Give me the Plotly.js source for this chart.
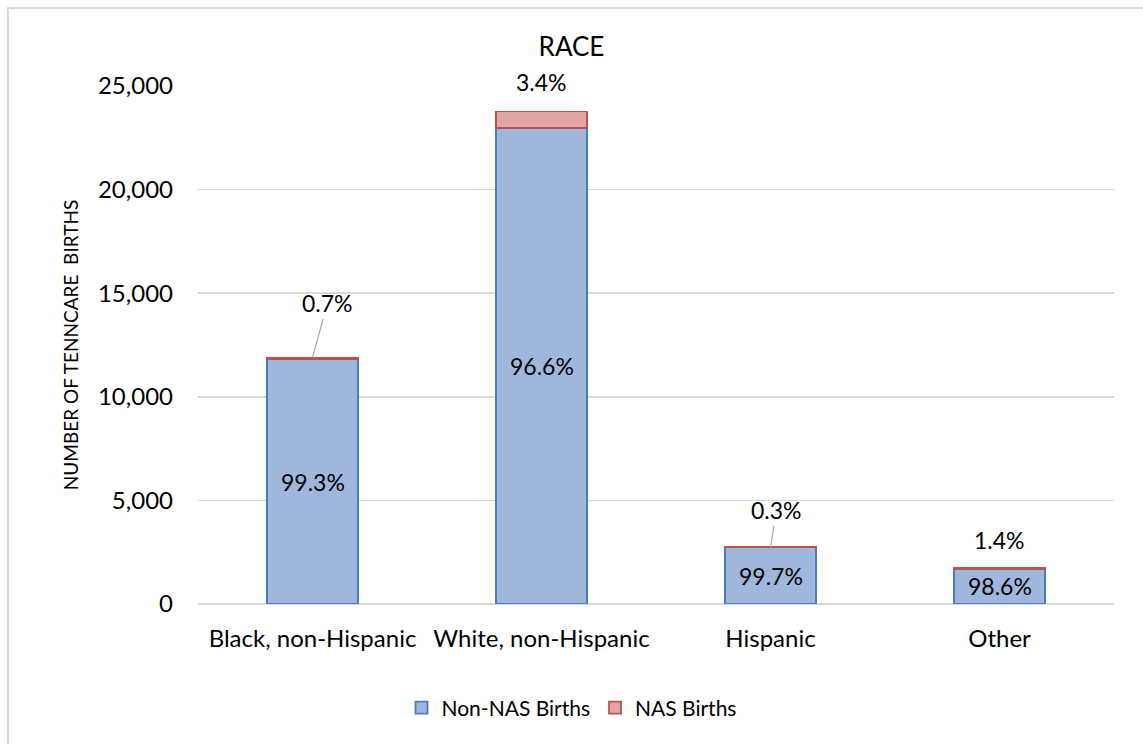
<!DOCTYPE html>
<html>
<head>
<meta charset="utf-8">
<script src="https://cdn.plot.ly/plotly-3.0.1.min.js"></script>
<style>
  html, body { margin: 0; padding: 0; background: #fff; overflow: hidden; }
  #frame { position: absolute; left: 7px; top: 7px; width: 1150px; height: 760px; border-left: 2px solid #d9d9d9; border-top: 2px solid #d9d9d9; box-sizing: border-box; }
  #chart { position: absolute; left: 0; top: 0; width: 1143px; height: 744px; }
</style>
</head>
<body>
<div id="frame"></div>
<div id="chart"></div>
<script>
const categories = ["Black, non-Hispanic", "White, non-Hispanic", "Hispanic", "Other"];
const nonNasBirths = [11817, 22960, 2732, 1700];
const nasBirths = [83, 808, 8, 24];
const nonNasLabels = ["99.3%", "96.6%", "99.7%", "98.6%"];
const nasLabels = ["0.7%", "3.4%", "0.3%", "1.4%"];

const FONT = "Lato, 'Open Sans', sans-serif";

const traces = [
  {
    type: "bar", name: "Non-NAS Births", x: categories, y: nonNasBirths,
    marker: { color: "#a0b7dd", line: { color: "#4a7cc4", width: 1.8 } },
    hoverinfo: "x+y"
  },
  {
    type: "bar", name: "NAS Births", x: categories, y: nasBirths,
    marker: { color: "#e0a5a5", line: { color: "#c0504d", width: 1.8 } },
    hoverinfo: "x+y"
  }
];

// label offsets for NAS labels (pixels) and whether a leader line is drawn
const nasOffsets = [[15, -54, true], [0, -30, false], [6, -37, true], [0, -28, false]];

const annotations = [];
categories.forEach((c, i) => {
  annotations.push({
    x: c, y: nonNasBirths[i] / 2, xref: "x", yref: "y",
    text: nonNasLabels[i], showarrow: false,
    font: { family: FONT, size: 23, color: "#000" }
  });
  const total = nonNasBirths[i] + nasBirths[i];
  const o = nasOffsets[i];
  if (o[2]) {
    annotations.push({
      x: c, y: total, xref: "x", yref: "y",
      text: nasLabels[i], showarrow: true, arrowhead: 0, arrowwidth: 1.2,
      arrowcolor: "#a6a6a6", ax: o[0], ay: o[1], standoff: 0,
      font: { family: FONT, size: 23, color: "#000" }
    });
  } else {
    annotations.push({
      x: c, y: total, xref: "x", yref: "y",
      text: nasLabels[i], showarrow: false, yshift: -o[1],
      font: { family: FONT, size: 23, color: "#000" }
    });
  }
});

const layout = {
  width: 1143, height: 744,
  margin: { l: 198, r: 29, t: 86, b: 140, autoexpand: false },
  paper_bgcolor: "rgba(0,0,0,0)", plot_bgcolor: "rgba(0,0,0,0)",
  barmode: "stack", bargap: 0.6,
  font: { family: FONT, size: 24, color: "#000" },
  title: { text: "RACE", x: 0.5, xanchor: "center", y: 0.937, yanchor: "middle",
           font: { family: FONT, size: 26, color: "#000" } },
  xaxis: { type: "category", showgrid: false, showline: false, zeroline: false,
           ticks: "", tickfont: { family: FONT, size: 24 }, ticklabelstandoff: 18 },
  yaxis: { range: [0, 25000], tickvals: [0, 5000, 10000, 15000, 20000, 25000],
           tickformat: ",d", showgrid: true, gridcolor: "#d9d9d9", gridwidth: 1.5,
           zeroline: true, zerolinecolor: "#d9d9d9", zerolinewidth: 2,
           showline: false, ticks: "", ticklabelstandoff: 24,
           tickfont: { family: FONT, size: 24 },
           title: { text: "NUMBER OF TENNCARE  BIRTHS", standoff: 14,
                    font: { family: FONT, size: 19, color: "#000" } } },
  showlegend: true,
  legend: { orientation: "h", x: 0.5, xanchor: "center", xref: "container",
            y: 1 - 708 / 744, yanchor: "middle", yref: "container",
            font: { family: FONT, size: 21 }, traceorder: "normal", itemwidth: 30 },
  annotations: annotations
};

Plotly.newPlot("chart", traces, layout, { displayModeBar: false, staticPlot: true });
</script>
</body>
</html>
